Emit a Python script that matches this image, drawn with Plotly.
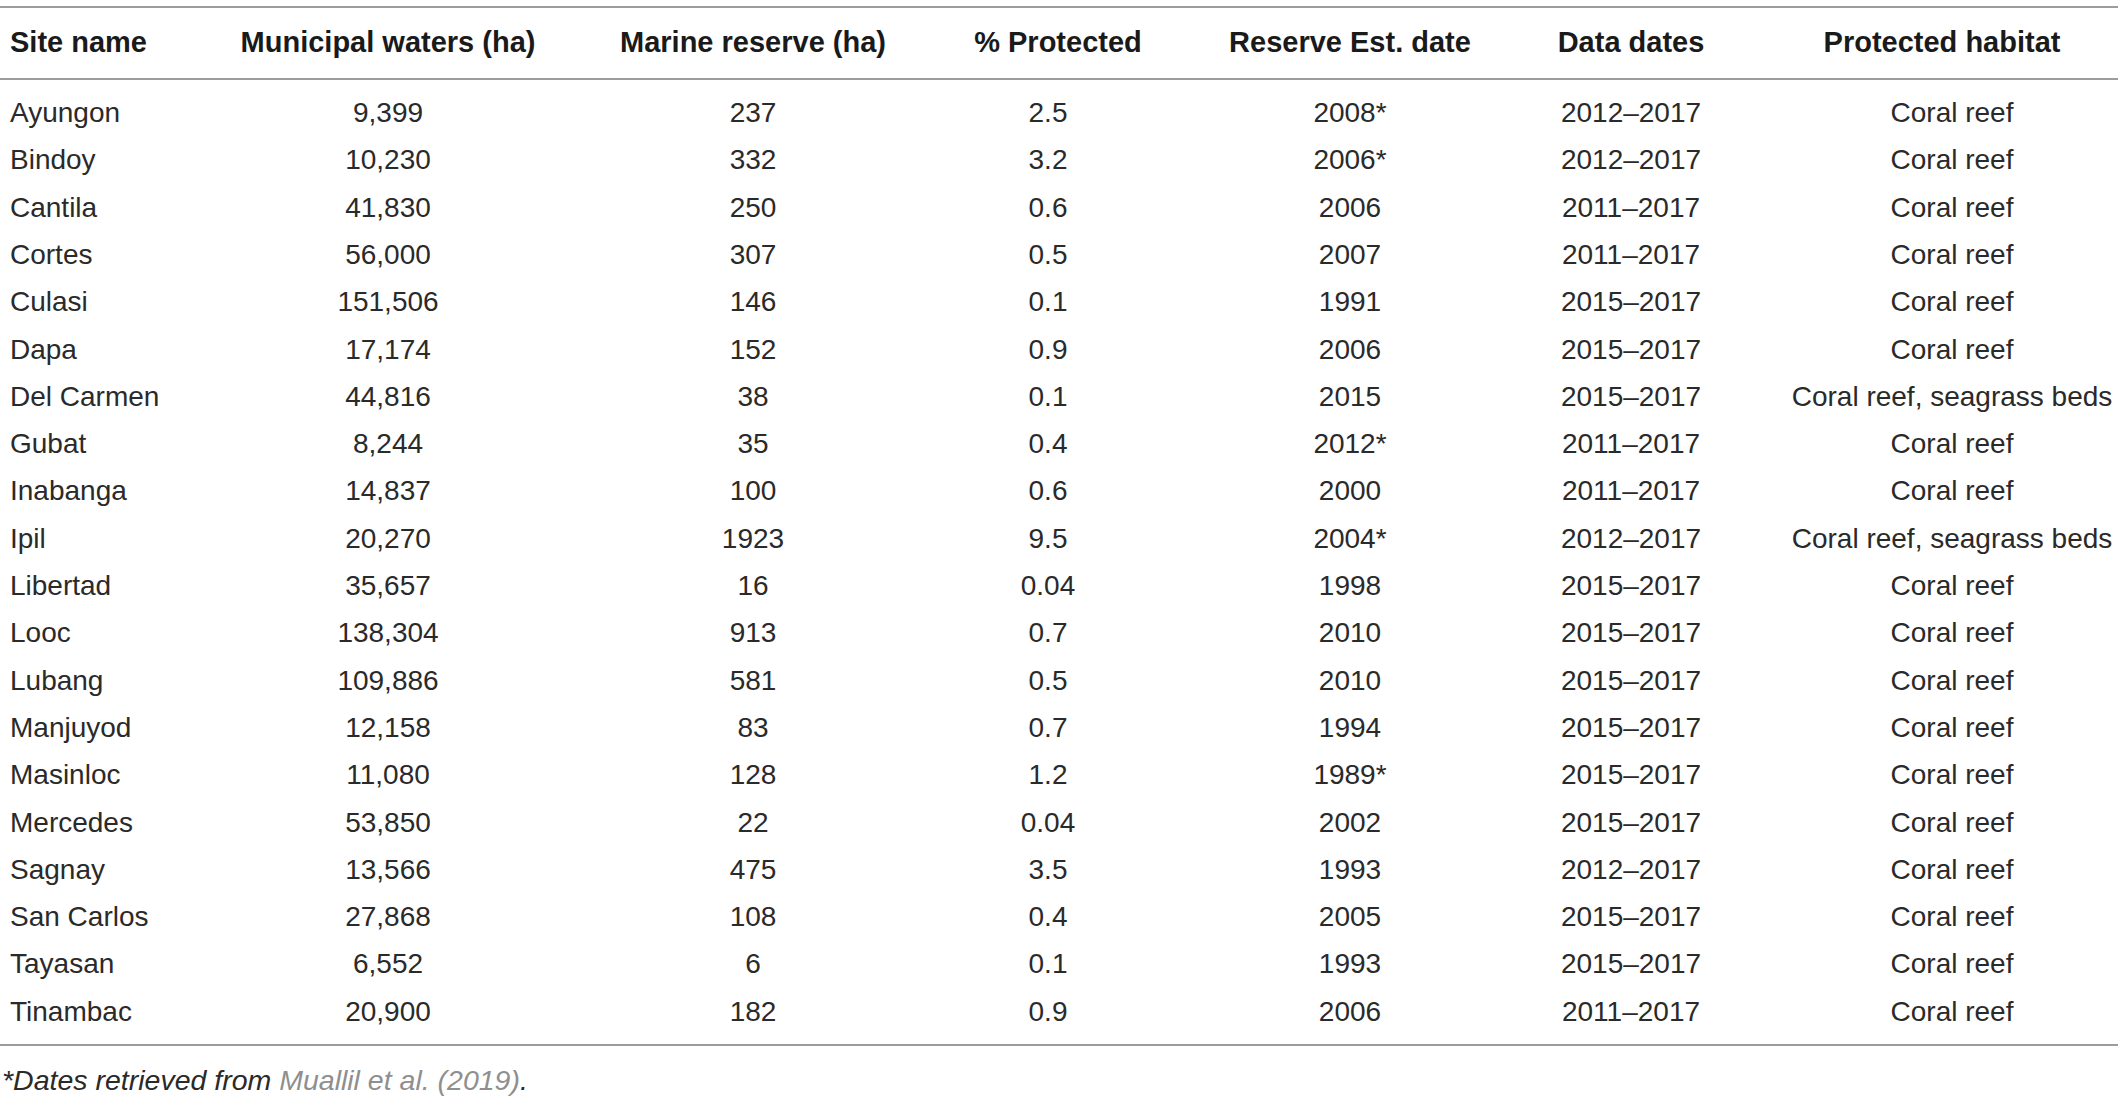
import plotly.graph_objects as go

# table data
sites = ["Ayungon", "Bindoy", "Cantila", "Cortes", "Culasi", "Dapa", "Del Carmen", "Gubat",
         "Inabanga", "Ipil", "Libertad", "Looc", "Lubang", "Manjuyod", "Masinloc", "Mercedes",
         "Sagnay", "San Carlos", "Tayasan", "Tinambac"]
municipal_ha = [9399, 10230, 41830, 56000, 151506, 17174, 44816, 8244, 14837, 20270,
                35657, 138304, 109886, 12158, 11080, 53850, 13566, 27868, 6552, 20900]
reserve_ha = [237, 332, 250, 307, 146, 152, 38, 35, 100, 1923,
              16, 913, 581, 83, 128, 22, 475, 108, 6, 182]
pct_protected = ["2.5", "3.2", "0.6", "0.5", "0.1", "0.9", "0.1", "0.4", "0.6", "9.5",
                 "0.04", "0.7", "0.5", "0.7", "1.2", "0.04", "3.5", "0.4", "0.1", "0.9"]
est_year = [2008, 2006, 2006, 2007, 1991, 2006, 2015, 2012, 2000, 2004,
            1998, 2010, 2010, 1994, 1989, 2002, 1993, 2005, 1993, 2006]
est_from_muallil = [True, True, False, False, False, False, False, True, False, True,
                    False, False, False, False, True, False, False, False, False, False]
data_start = [2012, 2012, 2011, 2011, 2015, 2015, 2015, 2011, 2011, 2012,
              2015, 2015, 2015, 2015, 2015, 2015, 2012, 2015, 2015, 2011]
data_end = [2017] * 20
habitat = ["Coral reef", "Coral reef", "Coral reef", "Coral reef", "Coral reef", "Coral reef",
           "Coral reef, seagrass beds", "Coral reef", "Coral reef", "Coral reef, seagrass beds",
           "Coral reef", "Coral reef", "Coral reef", "Coral reef", "Coral reef", "Coral reef",
           "Coral reef", "Coral reef", "Coral reef", "Coral reef"]
headers = ["Site name", "Municipal waters (ha)", "Marine reserve (ha)", "% Protected",
           "Reserve Est. date", "Data dates", "Protected habitat"]

columns = [
    sites,
    [f"{v:,}" for v in municipal_ha],
    [str(v) for v in reserve_ha],
    pct_protected,
    [f"{y}*" if m else str(y) for y, m in zip(est_year, est_from_muallil)],
    [f"{a}\u2013{b}" for a, b in zip(data_start, data_end)],
    habitat,
]

# layout (pixels)
W, H = 2118, 1096
ROW0_PX, ROW_PX = 115, 47.3
VALUE_X = [10, 388, 753, 1048, 1350, 1631, 1952]
HEADER_X = [10, 388, 753, 1058, 1350, 1631, 1942]
FONT = "Liberation Sans, Arial, sans-serif"
TEXT = "#2a2a2a"
RULE = "#9c9c9c"


def row_of(px):
    return (px - ROW0_PX) / ROW_PX


rows = list(range(len(sites)))
fig = go.Figure()
for i, col in enumerate(columns):
    pos = "middle right" if i == 0 else "middle center"
    fig.add_trace(go.Scatter(
        x=[VALUE_X[i]] * len(col), y=rows, text=col, mode="text",
        textposition=pos, textfont=dict(family=FONT, size=28, color=TEXT),
        hoverinfo="skip", showlegend=False))
    fig.add_trace(go.Scatter(
        x=[HEADER_X[i]], y=[row_of(45)], text=[f"<b>{headers[i]}</b>"], mode="text",
        textposition=pos, textfont=dict(family=FONT, size=29, color="#1a1a1a"),
        hoverinfo="skip", showlegend=False))

for py in [7, 79, 1045]:
    fig.add_shape(type="line", xref="x", yref="y", x0=0, x1=W, y0=row_of(py), y1=row_of(py),
                  line=dict(color=RULE, width=2))

fig.add_annotation(
    x=0, y=row_of(1080), xref="x", yref="y", xanchor="left", yanchor="middle", showarrow=False,
    text="<i>*Dates retrieved from <span style='color:#8f8f8f'>Muallil et al. (2019)</span>.</i>",
    font=dict(family=FONT, size=28.5, color=TEXT))

fig.update_xaxes(range=[0, W], visible=False, fixedrange=True)
fig.update_yaxes(range=[row_of(H), row_of(0)], visible=False, fixedrange=True)
fig.update_layout(width=W, height=H, margin=dict(l=0, r=0, t=0, b=0),
                  paper_bgcolor="white", plot_bgcolor="white")
fig.write_html("out.html", config={"displayModeBar": False},
               post_script="document.body.style.margin='0';document.body.style.overflow='hidden';")
